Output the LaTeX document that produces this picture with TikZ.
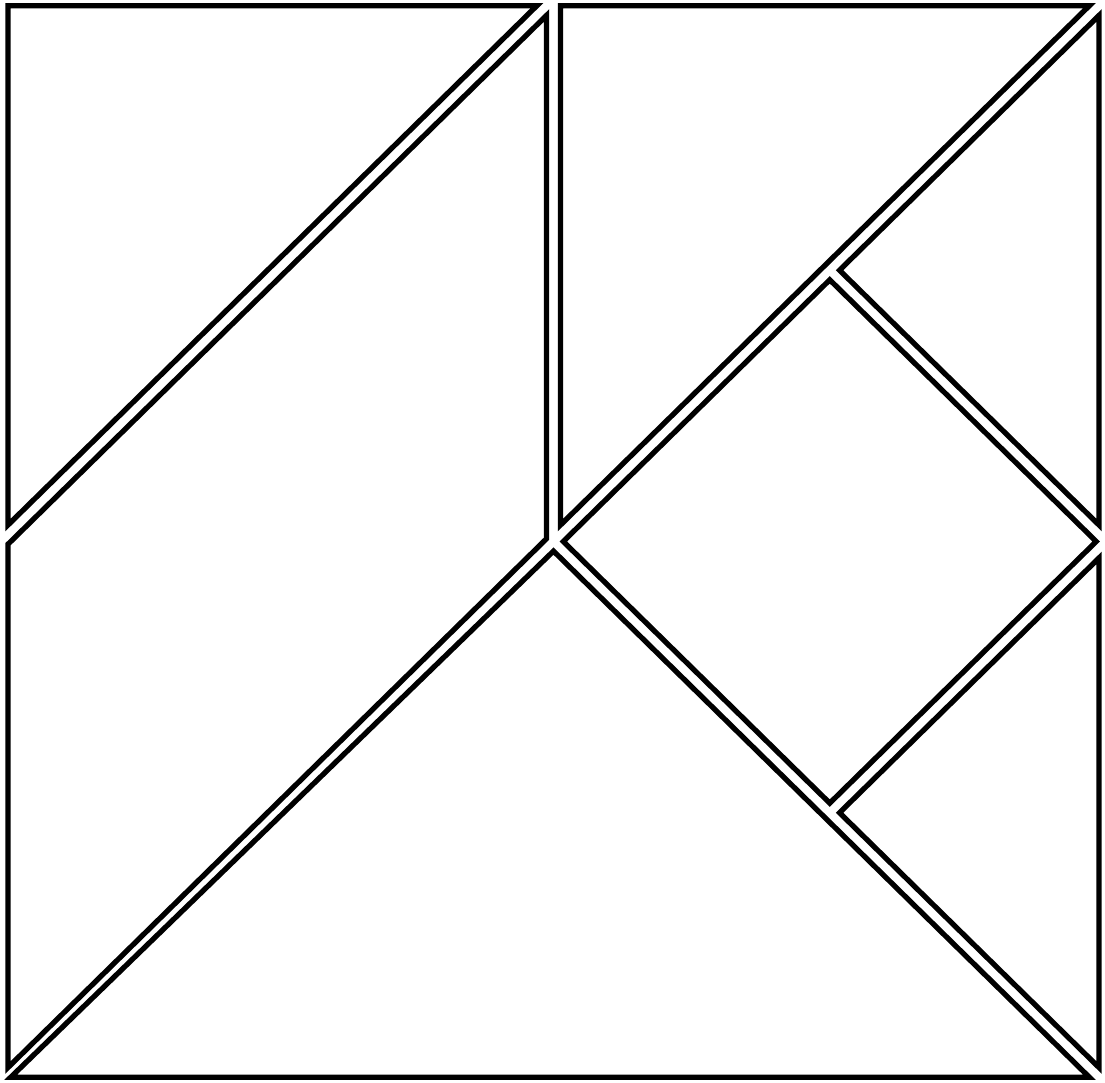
\documentclass[tikz,border=0pt]{standalone}
\usepackage{tikz}
\tikzset{piece/.style={draw=black, line width=1.5pt, line join=miter, fill=white}}
\def\g{0.025}  % inset of every piece
\def\h{0.0354} % inset times sqrt 2
\begin{document}
\begin{tikzpicture}[x=2.7625cm, y=2.7125cm]
\useasboundingbox (0cm,0cm) rectangle (11.05cm,10.83cm);
\begin{scope}[shift={(0.01cm,-0.01cm)}]
% ---- left half: two triangles and the parallelogram
\draw[piece] (\g,4-\g) -- (2-\g-\h,4-\g) -- (\g,2+\g+\h) -- cycle;
\draw[piece] (2-\g,4-\g-\h) -- (2-\g,2-\g+\h) -- (\g,\g+\h) -- (\g,2+\g-\h) -- cycle;
\draw[piece] (\h,\g) -- (4-\g-\h,\g) -- (2,2-\h) -- cycle;
% ---- right half: big triangle, square, two small triangles
\draw[piece] (2+\g,4-\g) -- (4-\g-\h,4-\g) -- (2+\g,2+\g+\h) -- cycle;
\draw[piece] (4-\g,4-\g-\h) -- (4-\g,2+\g+\h) -- (3+\h,3) -- cycle;
\draw[piece] (3,3-\h) -- (4-\h,2) -- (3,1+\h) -- (2+\h,2) -- cycle;
\draw[piece] (4-\g,2-\g-\h) -- (4-\g,\g+\h) -- (3+\h,1) -- cycle;
\end{scope}
\end{tikzpicture}
\end{document}
